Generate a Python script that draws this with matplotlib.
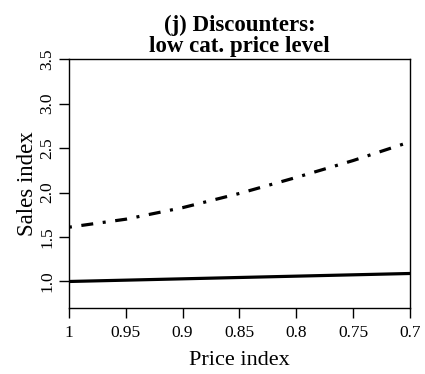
import numpy as np
import matplotlib.pyplot as plt

plt.rcParams['font.family'] = ['Liberation Serif', 'DejaVu Serif']

# data
price = [1.0, 0.95, 0.9, 0.85, 0.8, 0.75, 0.7]
sales_solid = [1.0, 1.015, 1.03, 1.045, 1.06, 1.075, 1.09]
sales_dashdot = [1.61, 1.70, 1.83, 1.99, 2.17, 2.36, 2.57]
xticks = [1, 0.95, 0.9, 0.85, 0.8, 0.75, 0.7]
xticklabels = ['1', '0.95', '0.9', '0.85', '0.8', '0.75', '0.7']
yticks = [1.0, 1.5, 2.0, 2.5, 3.0, 3.5]

fig = plt.figure(figsize=(4.25, 3.74), dpi=100)
ax = fig.add_axes([0.162, 0.176, 0.803, 0.666])

ax.plot(price, sales_solid, color='black', lw=2.3, solid_capstyle='butt')
ax.plot(price, sales_dashdot, color='black', lw=2.3,
        linestyle=(0, (0.95, 3.0, 3.75, 3.0)), dash_capstyle='butt')

ax.set_xlim(1, 0.7)
ax.set_ylim(0.7, 3.5)
ax.set_xticks(xticks)
ax.set_xticklabels(xticklabels)
ax.set_yticks(yticks)
ax.set_yticklabels([f'{v:.1f}' for v in yticks], rotation=90, va='center')

ax.tick_params(direction='out', length=7, width=1, labelsize=12.5, pad=5)
ax.tick_params(axis='y', pad=3)
for s in ax.spines.values():
    s.set_linewidth(1)

ax.set_xlabel('Price index', fontsize=16, labelpad=7)
ax.set_ylabel('Sales index', fontsize=16.5, labelpad=1)
ax.set_title('(j) Discounters:\nlow cat. price level', fontsize=16.5,
             fontweight='bold', pad=5, linespacing=1.0)

fig.savefig('out.png', dpi=100)
